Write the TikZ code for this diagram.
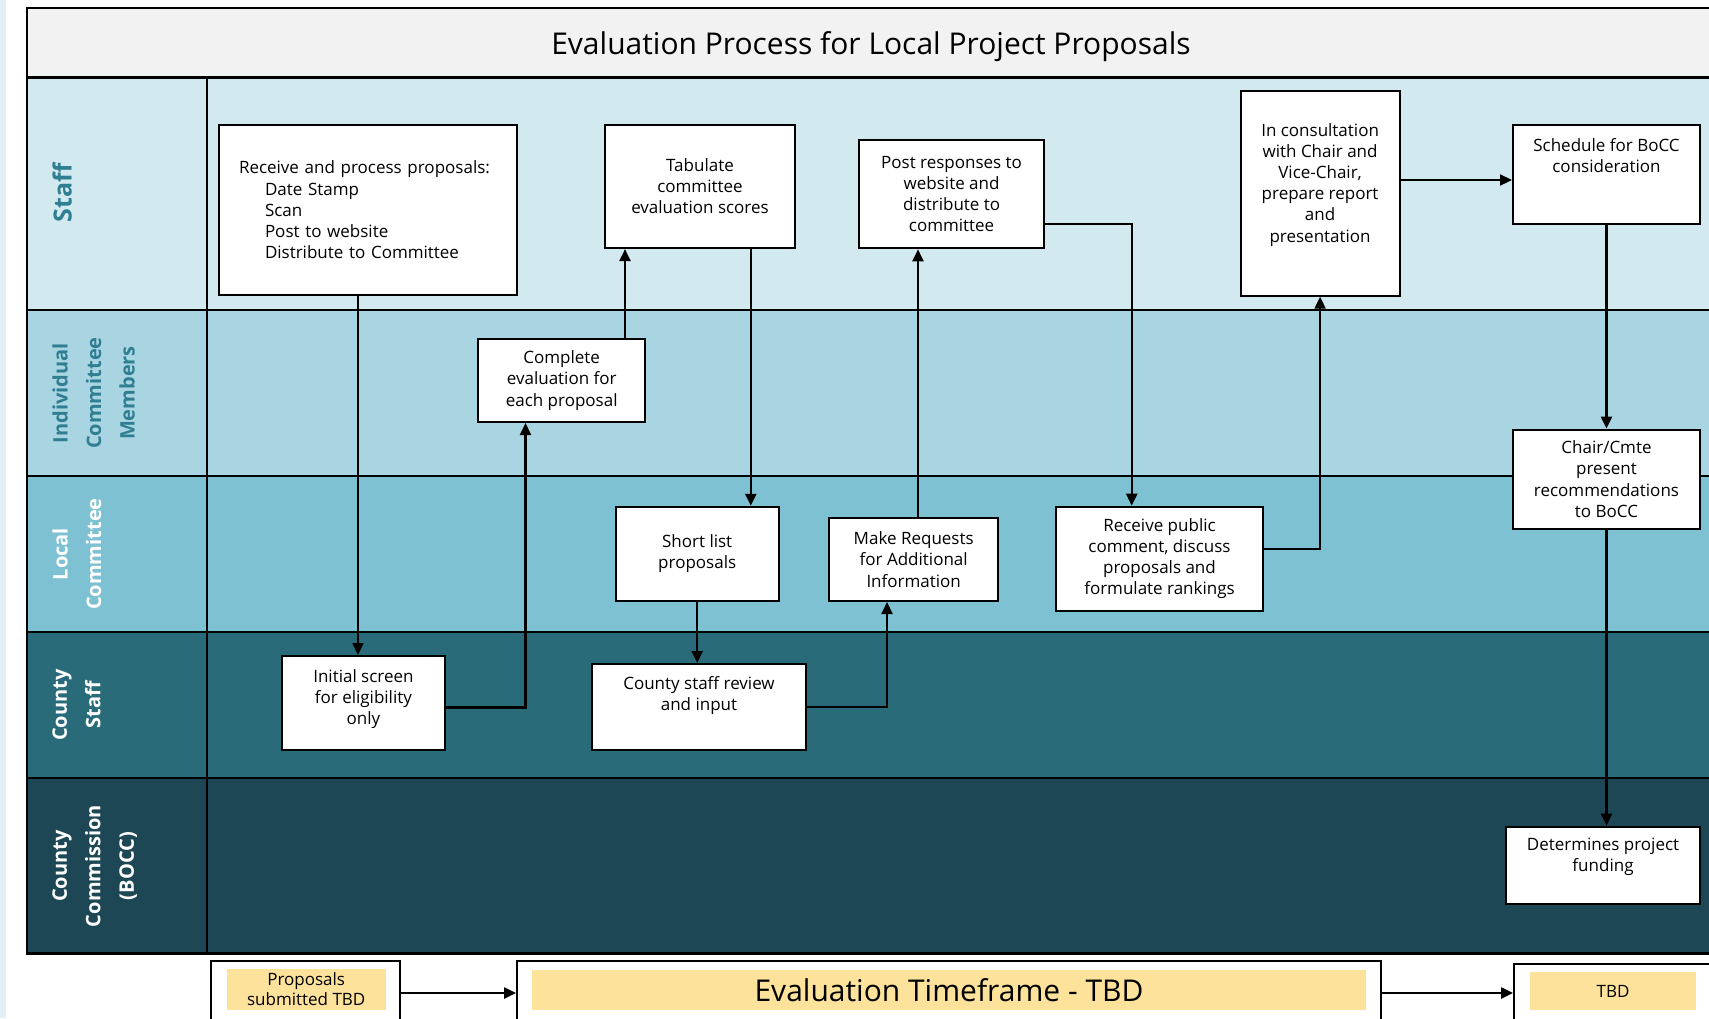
\documentclass[tikz,border=0pt]{standalone}
\usepackage{fontspec}
\setmainfont{Open Sans}
\usetikzlibrary{arrows.meta}
\definecolor{paleblue}{HTML}{E2EFF5}
\definecolor{titlegray}{HTML}{F2F2F2}
\definecolor{lanestaff}{HTML}{D2E9F0}
\definecolor{laneicm}{HTML}{A9D5E2}
\definecolor{lanelocal}{HTML}{7EC1D3}
\definecolor{lanecounty}{HTML}{2A6B7A}
\definecolor{lanebocc}{HTML}{1E4756}
\definecolor{labelteal}{HTML}{2F7E91}
\definecolor{tbdyellow}{HTML}{FDE29B}
\begin{document}
\begin{tikzpicture}[
        x=0.5pt, y=-0.5pt,
        process/.style={rectangle, draw=black, line width=1pt, fill=white, align=center, inner sep=0pt, font=\fontsize{8.5}{10.6}\selectfont},
        arrow/.style={-{Triangle[length=6pt,width=5.5pt]}, line width=1.1pt},
        lane/.style={draw=black, line width=1pt},
        lanelabel/.style={rotate=90, anchor=north, align=center, inner sep=0pt, font=\fontsize{10}{16.75}\selectfont\bfseries},
        titlebar/.style={rectangle, draw=black, line width=1pt, fill=titlegray, minimum width=844pt, minimum height=34.5pt, text height=15.8pt, text depth=3.6pt, font=\fontsize{15}{18}\selectfont},
        period/.style={rectangle, draw=black, line width=0.9pt, fill=white, inner sep=0pt},
        periodtext/.style={rectangle, fill=tbdyellow, inner sep=0pt, align=center, font=\fontsize{8.5}{10}\selectfont}
    ]
    \useasboundingbox (0,0) rectangle (1709,1018);
    \clip (0,0) rectangle (1709,1018);
    \fill[white] (0,0) rectangle (1709,1018);
    \fill[paleblue] (0,0) rectangle (6,1018);

    % Title
    \node[titlebar] (title) at (871,42.5) {Evaluation Process for Local Project Proposals};

    % Lanes
    \fill[lanestaff] (27,77) rectangle (1720,310);
    \fill[laneicm] (27,310) rectangle (1720,476);
    \fill[lanelocal] (27,476) rectangle (1720,632);
    \fill[lanecounty] (27,632) rectangle (1720,778);
    \fill[lanebocc] (27,778) rectangle (1720,953);
    \draw[lane] (27,310) -- (1720,310);
    \draw[lane] (27,476) -- (1720,476);
    \draw[lane] (27,632) -- (1720,632);
    \draw[lane] (27,778) -- (1720,778);
    \draw[lane] (27,77) -- (27,953);
    \draw[lane] (207,77) -- (207,953);
    \draw[line width=1.5pt] (27,77) -- (1720,77);
    \draw[line width=1.5pt] (26,953) -- (1720,953);

    \node[lanelabel, text=labelteal, font=\fontsize{12.5}{16.75}\selectfont\bfseries] (lblstaff) at (52,193) {Staff};
    \node[lanelabel, text=labelteal] (lblicm) at (52,393) {Individual\\Committee\\Members};
    \node[lanelabel, text=white] (lbllocal) at (52,554) {Local\\Committee};
    \node[lanelabel, text=white] (lblcounty) at (52,705) {County\\Staff};
    \node[lanelabel, text=white] (lblbocc) at (52,866) {County\\Commission\\(BOCC)};

    % Steps
    \node[process, text width=129pt, align=left, minimum width=149pt, minimum height=85pt] (receive) at (368,210) {Receive and process proposals:\\\hspace*{13pt}Date Stamp\\\hspace*{13pt}Scan\\\hspace*{13pt}Post to website\\\hspace*{13pt}Distribute to Committee};
    \node[process, minimum width=83.75pt, minimum height=41.5pt] (complete) at (561.7,380.5) {Complete\\evaluation for\\each proposal};
    \node[process, minimum width=95pt, minimum height=61.65pt] (tabulate) at (700,186.4) {Tabulate\\committee\\evaluation scores};
    \node[process, minimum width=92.2pt, minimum height=54.3pt] (postresp) at (951.6,194) {Post responses to\\website and\\distribute to\\committee};
    \node[process, minimum width=79.5pt, minimum height=102.5pt] (consult) at (1320.1,193.2) {In consultation\\with Chair and\\Vice-Chair,\\prepare report\\and\\presentation\\ \mbox{}};
    \node[process, minimum width=93.5pt, minimum height=49.7pt] (schedule) at (1606.5,174.3) {Schedule for BoCC\\consideration\\[8.4pt]\mbox{}};
    \node[process, minimum width=93.5pt, minimum height=49.5pt] (chair) at (1606.5,479.1) {Chair/Cmte\\present\\recommendations\\to BoCC};
    \node[process, minimum width=97pt, minimum height=38.8pt] (determines) at (1603,865.5) {Determines project\\funding\\ \mbox{}};
    \node[process, minimum width=81.35pt, minimum height=47.2pt] (initial) at (363.4,703.2) {Initial screen\\for eligibility\\only\\[-4.2pt]\mbox{}};
    \node[process, minimum width=81.3pt, minimum height=47.15pt] (shortlist) at (697.2,553.9) {Short list\\proposals};
    \node[process, minimum width=107pt, minimum height=43.15pt] (countyrev) at (699,707.2) {County staff review\\and input\\[3.4pt]\mbox{}};
    \node[process, minimum width=84.3pt, minimum height=41.5pt] (makereq) at (913.7,559.5) {Make Requests\\for Additional\\Information};
    \node[process, minimum width=103.5pt, minimum height=52pt] (receivepub) at (1159.5,558.7) {Receive public\\comment, discuss\\proposals and\\formulate rankings};

    % Flow
    \coordinate (initTop) at ([xshift=-2.7pt]initial.north);
    \draw[arrow] (receive.south -| initTop) -- (initTop);
    \draw[arrow] ([yshift=-2.15pt]initial.east) -| ([xshift=-18.1pt]complete.south);
    \coordinate (cmpTop) at ([xshift=31.65pt]complete.north);
    \draw[arrow] (cmpTop) -- (cmpTop |- tabulate.south);
    \coordinate (tabBot) at ([xshift=25.4pt]tabulate.south);
    \draw[arrow] (tabBot) -- (tabBot |- shortlist.north);
    \draw[arrow] (shortlist.south) -- (shortlist.south |- countyrev.north);
    \draw[arrow] (countyrev.east) -| ([xshift=-13.35pt]makereq.south);
    \coordinate (mrTop) at ([xshift=2.15pt]makereq.north);
    \draw[arrow] (mrTop) -- (mrTop |- postresp.south);
    \draw[arrow] ([yshift=-15pt]postresp.east) -| ([xshift=-13.9pt]receivepub.north);
    \draw[arrow] ([yshift=4.85pt]receivepub.east) -| (consult.south);
    \coordinate (csRight) at ([yshift=6.6pt]consult.east);
    \draw[arrow] (csRight) -- (csRight -| schedule.west);
    \draw[arrow] (schedule.south) -- (chair.north);
    \draw[arrow] (chair.south) -- (chair.south |- determines.north);

    % Timeframe
    \node[period, minimum width=94.5pt, minimum height=32pt] (propbox) at (305.5,993) {};
    \node[periodtext, minimum width=79.6pt, minimum height=20.5pt] (proptext) at (306.2,989.5) {Proposals\\submitted TBD};
    \node[period, minimum width=432pt, minimum height=32pt] (evalbox) at (949,993) {};
    \node[periodtext, minimum width=417pt, minimum height=20pt, font=\fontsize{15}{18}\selectfont] (evaltext) at (949,990) {Evaluation Timeframe - TBD};
    \node[period, minimum width=99pt, minimum height=30.5pt] (tbdbox) at (1613,994.5) {};
    \node[periodtext, minimum width=83pt, minimum height=19pt] (tbdtext) at (1613,991) {TBD};
    \draw[arrow] (propbox.east) -- (evalbox.west);
    \draw[arrow] (evalbox.east) -- (evalbox.east -| tbdbox.west);

\end{tikzpicture}
\end{document}
